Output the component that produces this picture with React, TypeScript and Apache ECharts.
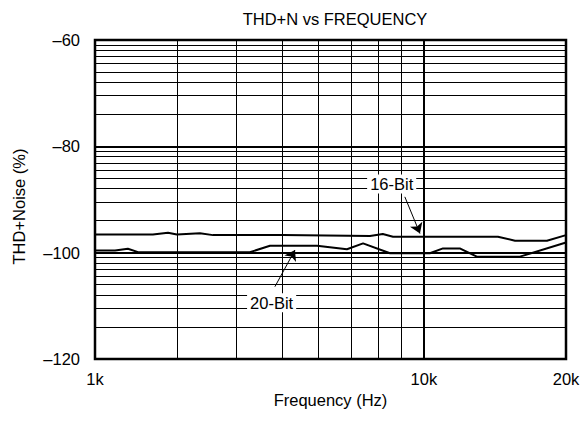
import React, { useEffect, useRef } from "react";
import * as echarts from "echarts";

// ---- data (x = position on the printed frequency scale: 1k = 0, 10k = 1, 20k = 1.432) ----
const xMax = 1.432;
const xTickPos = [0, 1, 1.432];
const xTickLabels = ["1k", "10k", "20k"];
const xMinorGrid = [0.25, 0.431, 0.568, 0.682, 0.777, 0.861, 0.934];
const xMajorGrid = [1];

const yMin = -120;
const yMax = -60;
const yStep = 20;
const yMajorGrid = [-80, -100];
const yBandBottoms = [-80, -100, -120];
const minorSteps = [2, 3, 4, 5, 6, 7, 8, 9];

const pos16 = [0, 0.176, 0.222, 0.249, 0.319, 0.359, 0.571, 0.836, 0.875, 0.906, 0.988, 1.225, 1.277, 1.374, 1.432];
const db16 = [-96.6, -96.6, -96.25, -96.6, -96.35, -96.7, -96.7, -96.85, -96.5, -97.0, -97.0, -97.0, -97.75, -97.75, -96.7];

const pos20 = [0, 0.061, 0.1, 0.131, 0.471, 0.532, 0.675, 0.766, 0.815, 0.897, 1.018, 1.058, 1.109, 1.161, 1.292, 1.432];
const db20 = [-99.6, -99.6, -99.25, -99.9, -99.9, -98.7, -98.7, -99.35, -98.25, -100.1, -100.1, -99.2, -99.2, -100.75, -100.75, -98.1];

const label16 = { text: "16-Bit", at: [0.902, -87.1], from: [0.942, -89.5], to: [0.988, -96.4] };
const label20 = { text: "20-Bit", at: [0.537, -109.4], from: [0.547, -106.4], to: [0.608, -99.5] };

const FONT = "'Liberation Sans', Arial, Helvetica, sans-serif";
const FS = 16.5;

export default function App() {
  const ref = useRef<HTMLDivElement>(null);

  useEffect(() => {
    if (!ref.current) return;
    const chart = echarts.init(ref.current, null, { renderer: "svg" });

    const yMinor: number[] = [];
    yBandBottoms.forEach((b) => minorSteps.forEach((n) => yMinor.push(b + 20 * Math.log10(n))));

    const thin = { color: "#000", width: 1, type: "solid" as const };
    const thick = { color: "#000", width: 2, type: "solid" as const };

    const gridLines: any[] = [
      ...yMinor.map((v) => ({ yAxis: v, lineStyle: thin })),
      ...yMajorGrid.map((v) => ({ yAxis: v, lineStyle: thick })),
      ...xMinorGrid.map((v) => ({ xAxis: v, lineStyle: thin })),
      ...xMajorGrid.map((v) => ({ xAxis: v, lineStyle: thick })),
    ];

    const arrows = [label16, label20].map((l) => [
      { coord: l.from, symbol: "none" },
      { coord: l.to, symbol: "arrow" },
    ]);

    const option: any = {
      animation: false,
      backgroundColor: "#fff",
      textStyle: { fontFamily: FONT, color: "#000" },
      title: {
        text: "THD+N vs FREQUENCY",
        left: 330,
        textAlign: "center",
        top: 5,
        textStyle: { fontFamily: FONT, fontSize: FS, fontWeight: "normal", color: "#000" },
      },
      grid: {
        left: 95,
        top: 40,
        right: 17,
        bottom: 67,
        show: true,
        borderColor: "#000",
        borderWidth: 2.5,
        backgroundColor: "#fff",
      },
      xAxis: {
        type: "value",
        min: 0,
        max: xMax,
        name: "Frequency (Hz)",
        nameLocation: "middle",
        nameGap: 30,
        nameTextStyle: { fontFamily: FONT, fontSize: FS, color: "#000" },
        axisLine: { show: false },
        axisTick: { show: false },
        splitLine: { show: false },
        axisLabel: {
          customValues: xTickPos,
          margin: 11,
          fontFamily: FONT,
          fontSize: FS,
          color: "#000",
          formatter: (v: number) => {
            const i = xTickPos.findIndex((p) => Math.abs(p - v) < 1e-6);
            return i >= 0 ? xTickLabels[i] : "";
          },
        },
      },
      yAxis: {
        type: "value",
        min: yMin,
        max: yMax,
        interval: yStep,
        name: "THD+Noise (%)",
        nameLocation: "middle",
        nameGap: 68,
        nameTextStyle: { fontFamily: FONT, fontSize: FS, color: "#000", padding: [0, 14, 0, 0] },
        axisLine: { show: false },
        axisTick: { show: false },
        splitLine: { show: false },
        axisLabel: {
          margin: 15,
          fontFamily: FONT,
          fontSize: FS,
          color: "#000",
          padding: [10, 0, 0, 0],
          formatter: (v: number) => (v < 0 ? "\u2013" + Math.abs(v) : String(v)),
        },
      },
      series: [
        {
          type: "line",
          data: [],
          silent: true,
          markLine: {
            silent: true,
            z: 1,
            symbol: "none",
            label: { show: false },
            data: gridLines,
          },
        },
        {
          name: "16-Bit",
          type: "line",
          z: 3,
          symbol: "none",
          lineStyle: { color: "#000", width: 2 },
          data: pos16.map((x, i) => [x, db16[i]]),
        },
        {
          name: "20-Bit",
          type: "line",
          z: 3,
          symbol: "none",
          lineStyle: { color: "#000", width: 2 },
          data: pos20.map((x, i) => [x, db20[i]]),
        },
        {
          type: "line",
          data: [],
          silent: true,
          markLine: {
            silent: true,
            z: 6,
            symbolSize: 10,
            label: { show: false },
            lineStyle: { color: "#000", width: 1, type: "solid" },
            data: arrows,
          },
          markPoint: {
            silent: true,
            z: 8,
            symbol: "rect",
            symbolSize: 1,
            itemStyle: { color: "rgba(0,0,0,0)" },
            label: {
              show: true,
              position: "inside",
              formatter: "{b}",
              fontFamily: FONT,
              fontSize: FS,
              color: "#000",
              backgroundColor: "#fff",
              padding: [1, 3],
            },
            data: [label16, label20].map((l) => ({ name: l.text, coord: l.at })),
          },
        },
      ],
    };

    chart.setOption(option);
    return () => chart.dispose();
  }, []);

  return (
    <div
      ref={ref}
      style={{ position: "fixed", left: 0, top: 0, width: 583, height: 426 }}
    />
  );
}
